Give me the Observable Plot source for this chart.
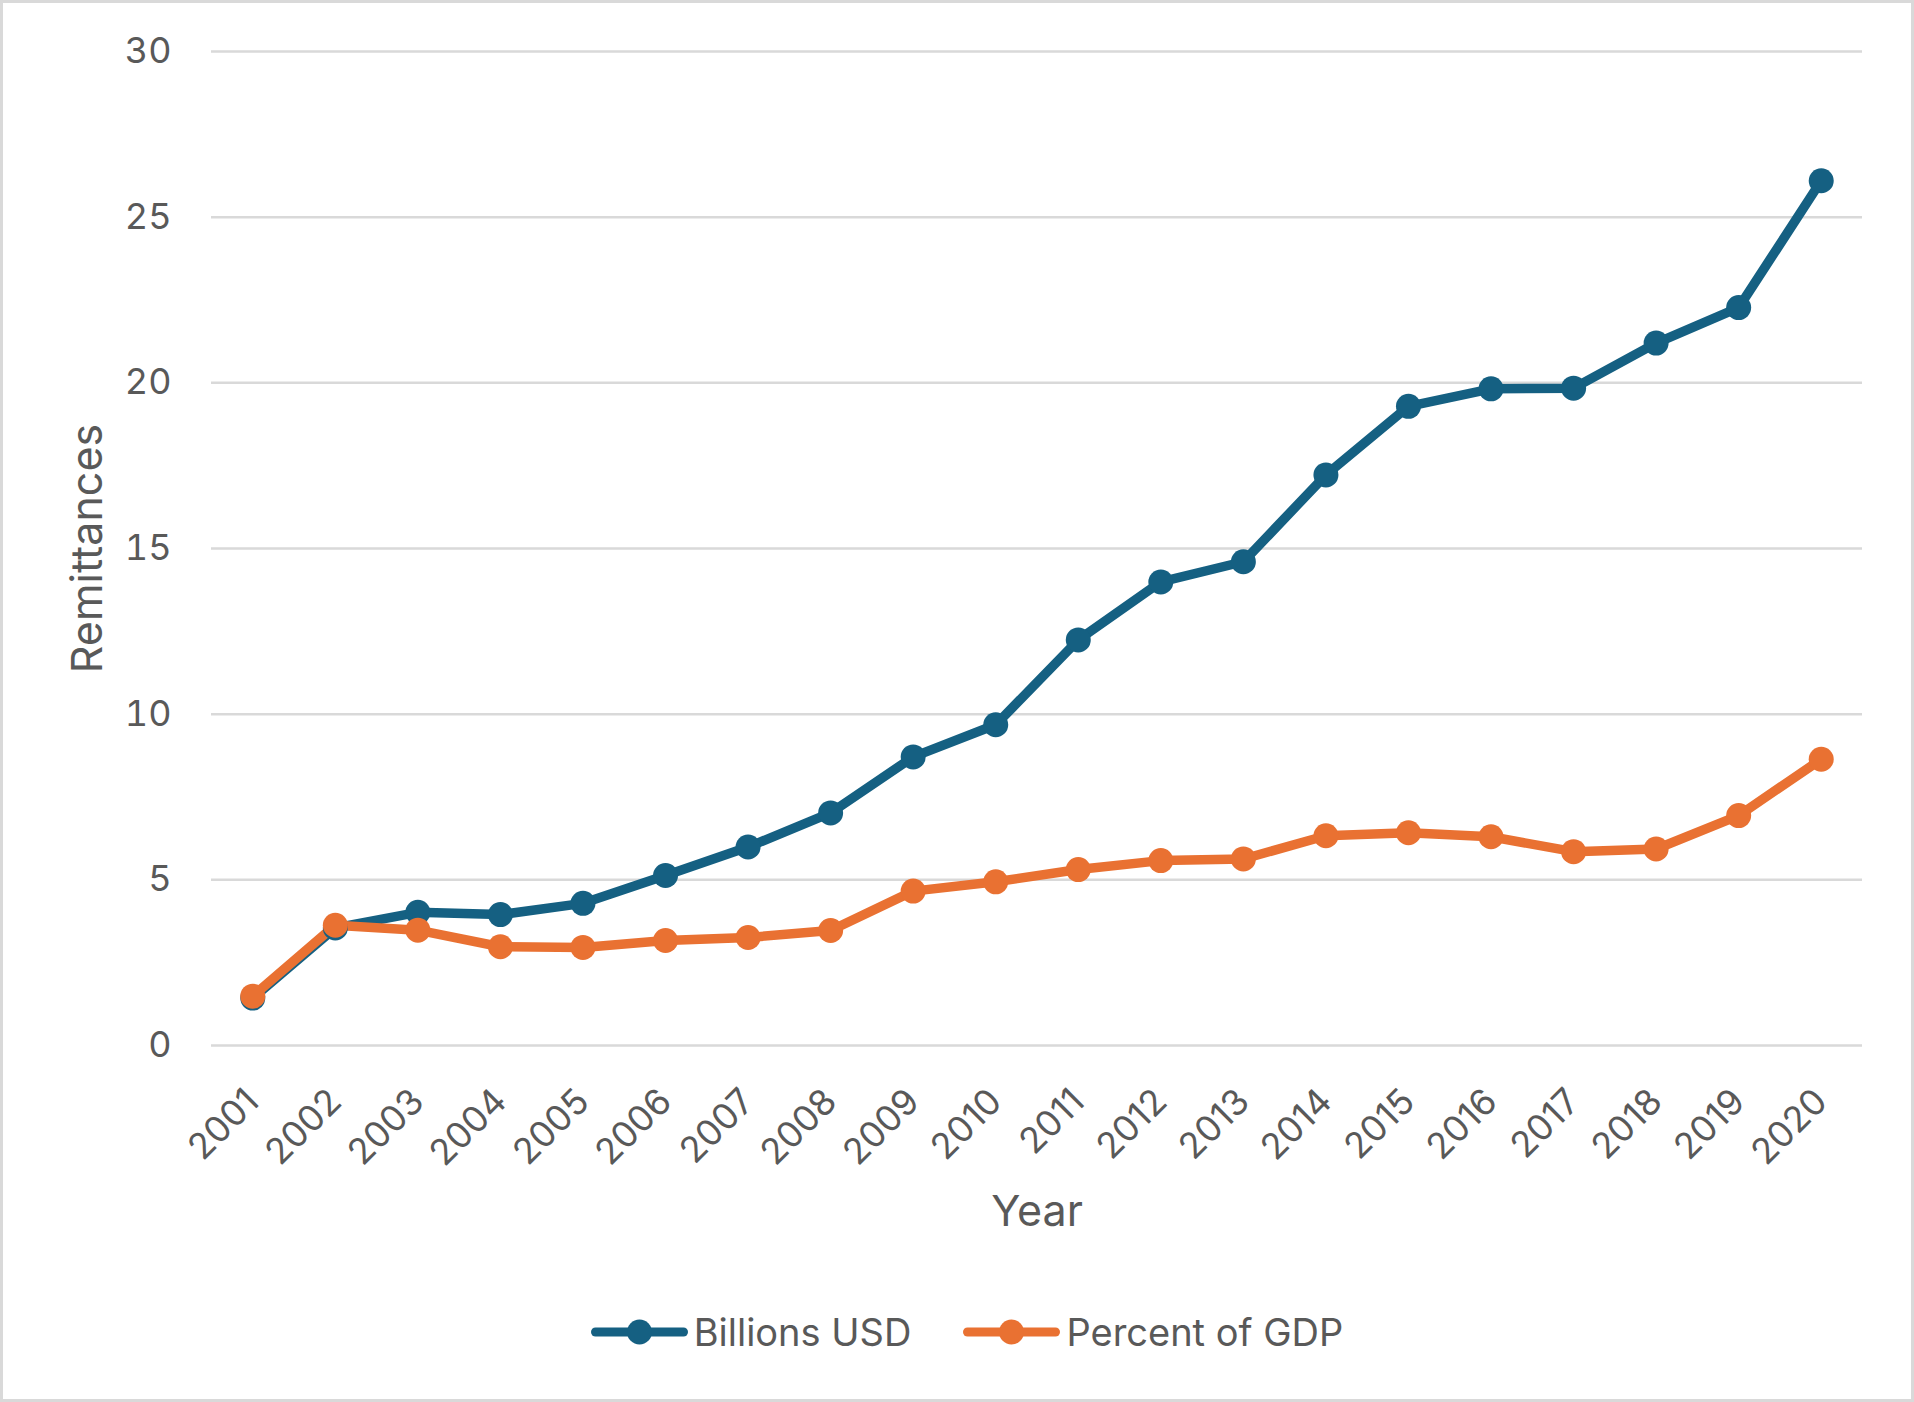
<!DOCTYPE html>
<html>
<head>
<meta charset="utf-8">
<script src="https://cdn.jsdelivr.net/npm/d3@7"></script>
<script src="https://cdn.jsdelivr.net/npm/@observablehq/plot@0.6"></script>
<style>
  html, body { margin: 0; padding: 0; background: #fff; }
  #wrap { position: relative; width: 1914px; height: 1402px; background: #fff; font-family: Inter, "Open Sans", sans-serif; }
  #border { position: absolute; inset: 0; border: 3px solid #d9d9d9; pointer-events: none; }
  #chart { position: absolute; left: 0; top: 0; }
  #legend { position: absolute; left: 10px; top: 1307px; width: 1914px; height: 50px; display: flex; justify-content: center; align-items: center; gap: 52px; color: #595959; font-size: 38px; }
  .item { display: flex; align-items: center; gap: 6px; }
</style>
</head>
<body>
<div id="wrap">
  <div id="chart"></div>
  <div id="legend"></div>
  <div id="border"></div>
</div>
<script>
const years = ["2001","2002","2003","2004","2005","2006","2007","2008","2009","2010","2011","2012","2013","2014","2015","2016","2017","2018","2019","2020"];
const billionsUSD = [1.43, 3.55, 4.02, 3.95, 4.29, 5.13, 5.99, 7.02, 8.71, 9.68, 12.24, 13.99, 14.60, 17.22, 19.29, 19.82, 19.84, 21.20, 22.27, 26.10];
const percentGDP = [1.49, 3.63, 3.48, 2.98, 2.96, 3.17, 3.26, 3.47, 4.66, 4.94, 5.31, 5.58, 5.63, 6.33, 6.42, 6.30, 5.85, 5.93, 6.94, 8.64];
const yTicks = [0, 5, 10, 15, 20, 25, 30];
const seriesNames = ["Billions USD", "Percent of GDP"];
const seriesColors = ["#156082", "#E97132"];
const xTitle = "Year";
const yTitle = "Remittances";

const rows = [];
[billionsUSD, percentGDP].forEach((vals, s) => {
  vals.forEach((v, i) => rows.push({year: years[i], value: v, series: seriesNames[s]}));
});

const textColor = "#595959";
const chart = Plot.plot({
  width: 1914,
  height: 1260,
  marginLeft: 211,
  marginRight: 52,
  marginTop: 51,
  marginBottom: 215,
  style: {fontFamily: "Inter, 'Open Sans', sans-serif", fontSize: "36px", color: textColor, background: "transparent", overflow: "visible"},
  x: {type: "point", domain: years, padding: 0.5, round: false},
  y: {domain: [0, 30]},
  color: {domain: seriesNames, range: seriesColors},
  marks: [
    Plot.ruleY(yTicks, {stroke: "#d9d9d9", strokeWidth: 2.5}),
    Plot.axisY({ticks: yTicks, tickSize: 0, tickPadding: 40, fontSize: 36, fill: textColor,
      label: yTitle, labelAnchor: "center", labelArrow: "none", labelOffset: 140}),
    Plot.axisX({tickSize: 0, tickPadding: 50, tickRotate: -45, fontSize: 36, fill: textColor,
      label: xTitle, labelAnchor: "center", labelArrow: "none", labelOffset: 180}),
    Plot.line(rows, {x: "year", y: "value", z: "series", stroke: "series", strokeWidth: 9.5, strokeLinejoin: "round", strokeLinecap: "round"}),
    Plot.dot(rows, {x: "year", y: "value", fill: "series", r: 12.5})
  ]
});
chart.querySelectorAll("g[aria-label='y-axis label'] text, g[aria-label='x-axis label'] text").forEach(t => t.setAttribute("font-size", "43"));
document.getElementById("chart").appendChild(chart);

const legend = document.getElementById("legend");
seriesNames.forEach((name, i) => {
  const item = document.createElement("div");
  item.className = "item";
  item.innerHTML = `<svg width="97" height="26"><line x1="4.5" x2="92.5" y1="13" y2="13" stroke="${seriesColors[i]}" stroke-width="9" stroke-linecap="round"/><circle cx="48.5" cy="13" r="12.5" fill="${seriesColors[i]}"/></svg><span>${name}</span>`;
  legend.appendChild(item);
});
</script>
</body>
</html>
